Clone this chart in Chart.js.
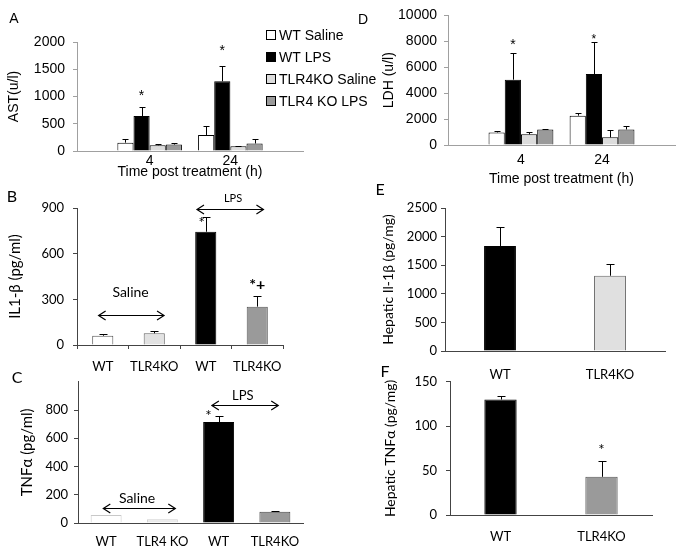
<!DOCTYPE html>
<html>
<head>
<meta charset="utf-8">
<script src="https://cdn.jsdelivr.net/npm/chart.js@4.4.1/dist/chart.umd.min.js"></script>
<style>
  body { margin: 0; background: #fff; }
  #wrap { position: relative; width: 683px; height: 553px; overflow: hidden; background: #fff; }
  canvas { position: absolute; }
</style>
</head>
<body>
<div id="wrap">
  <canvas id="chartD" width="343" height="190" style="left:340px;top:0"></canvas>
  <canvas id="chartA" width="395" height="185" style="left:0;top:0"></canvas>
  <canvas id="chartB" width="340" height="190" style="left:0;top:185px"></canvas>
  <canvas id="chartE" width="343" height="200" style="left:340px;top:180px"></canvas>
  <canvas id="chartC" width="340" height="185" style="left:0;top:368px"></canvas>
  <canvas id="chartF" width="343" height="188" style="left:340px;top:365px"></canvas>
</div>
<script>
// serum panels A and D: time points and groups
const timeLabels = ['4', '24'];
const groupLabels = ['WT Saline', 'WT LPS', 'TLR4KO Saline', 'TLR4 KO LPS'];

// A: AST (u/l) mean, and SD on top
const astWtSaline = [153, 294];
const astWtLps = [642, 1279];
const astKoSaline = [105, 88];
const astKoLps = [118, 138];
const astWtSalineErr = [75, 165];
const astWtLpsErr = [160, 286];
const astKoSalineErr = [15, 12];
const astKoLpsErr = [30, 74];

// D: LDH (u/l)
const ldhWtSaline = [970, 2265];
const ldhWtLps = [5040, 5470];
const ldhKoSaline = [820, 590];
const ldhKoLps = [1200, 1200];
const ldhWtSalineErr = [100, 205];
const ldhWtLpsErr = [2080, 2490];
const ldhKoSalineErr = [150, 555];
const ldhKoLpsErr = [45, 275];

// B and C: serum cytokines, saline then LPS
const serumLabels = ['WT', 'TLR4KO', 'WT', 'TLR4KO'];
const serumLabelsC = ['WT', 'TLR4 KO', 'WT', 'TLR4KO'];
const il1b = [61, 77, 744, 252];
const il1bErr = [11, 17, 99, 72];
const tnf = [57, 26, 715, 79];
const tnfErr = [0, 0, 40, 6];

// E and F: hepatic cytokines
const hepLabels = ['WT', 'TLR4KO'];
const hepIl1b = [1836, 1316];
const hepIl1bErr = [337, 210];
const hepTnf = [130, 43];
const hepTnfErr = [4, 18];

const groupColors = ['#ffffff', '#000000', '#dcdcdc', '#9a9a9a'];
const arial = '"Liberation Sans", Arial, sans-serif';
const calibri = 'Lato, Carlito, sans-serif';

// error bars: drawn upward from bar top, SD taken from dataset.errors
const errorBarPlugin = {
  id: 'errorBars',
  afterDatasetsDraw(chart, args, opts) {
    const ctx = chart.ctx;
    const yAxis = chart.scales.y;
    ctx.save();
    ctx.strokeStyle = '#000';
    ctx.lineWidth = 1;
    chart.data.datasets.forEach((ds, i) => {
      if (!ds.errors) return;
      chart.getDatasetMeta(i).data.forEach((bar, j) => {
        const err = ds.errors[j];
        if (!err) return;
        const raw = ds.data[j];
        const v = typeof raw === 'object' ? raw.y : raw;
        const top = Math.round(yAxis.getPixelForValue(v + err)) + 0.5;
        const x = Math.round(bar.x) + 0.5;
        ctx.beginPath();
        ctx.moveTo(x, bar.y);
        ctx.lineTo(x, top);
        ctx.moveTo(x - opts.cap, top);
        ctx.lineTo(x + opts.cap, top);
        ctx.stroke();
      });
    });
    ctx.restore();
  }
};

// stars, double arrows, text, panel letters and the A legend
const notesPlugin = {
  id: 'notes',
  afterDraw(chart, args, opts) {
    const ctx = chart.ctx;
    const xAxis = chart.scales.x, yAxis = chart.scales.y;
    ctx.save();
    ctx.fillStyle = '#000';
    ctx.strokeStyle = '#000';
    ctx.textAlign = 'center';
    ctx.textBaseline = 'middle';
    (opts.stars || []).forEach(s => {
      const px = s.dataset !== undefined
        ? chart.getDatasetMeta(s.dataset).data[s.index].x
        : xAxis.getPixelForValue(s.x);
      ctx.font = s.font;
      ctx.fillText(s.text, px, yAxis.getPixelForValue(s.y));
    });
    (opts.arrows || []).forEach(a => {
      const x1 = xAxis.getPixelForValue(a.x1);
      const x2 = xAxis.getPixelForValue(a.x2);
      const py = Math.round(yAxis.getPixelForValue(a.y)) + 0.5;
      ctx.lineWidth = 1.2;
      ctx.beginPath();
      ctx.moveTo(x1, py); ctx.lineTo(x2, py);
      ctx.moveTo(x1 + 7, py - 4.5); ctx.lineTo(x1, py); ctx.lineTo(x1 + 7, py + 4.5);
      ctx.moveTo(x2 - 7, py - 4.5); ctx.lineTo(x2, py); ctx.lineTo(x2 - 7, py + 4.5);
      ctx.stroke();
    });
    (opts.texts || []).forEach(t => {
      ctx.font = t.font;
      ctx.fillText(t.text, xAxis.getPixelForValue(t.x), yAxis.getPixelForValue(t.y));
    });
    if (opts.letter) {
      ctx.font = opts.letter.font;
      ctx.fillText(opts.letter.text, opts.letter.px, opts.letter.py);
    }
    if (opts.legend) {
      const lg = opts.legend;
      ctx.font = lg.font;
      ctx.textAlign = 'left';
      ctx.lineWidth = 1;
      chart.data.datasets.forEach((ds, i) => {
        const cy = lg.py + i * lg.step;
        ctx.fillStyle = ds.backgroundColor;
        ctx.fillRect(lg.px + 0.5, cy - 4.5, 9, 9);
        ctx.strokeStyle = '#000';
        ctx.strokeRect(lg.px + 0.5, cy - 4.5, 9, 9);
        ctx.fillStyle = '#000';
        ctx.fillText(ds.label, lg.px + 13, cy + 1);
      });
    }
    ctx.restore();
  }
};

function yScale(o) {
  return {
    min: 0,
    max: o.max,
    afterBuildTicks: s => {
      if (o.tickMax !== undefined) s.ticks = s.ticks.filter(t => t.value <= o.tickMax);
    },
    afterFit: s => { s.width = o.width; },
    border: { color: o.axisColor, width: 1 },
    grid: { drawOnChartArea: false, drawTicks: true, tickLength: 4, color: o.axisColor },
    ticks: { stepSize: o.step, padding: o.pad, color: '#000', font: o.font, callback: v => String(v) },
    title: { display: true, text: o.title, color: '#000', font: o.titleFont, padding: { top: o.titlePad, bottom: 0 } }
  };
}

function xCategory(o) {
  return {
    afterFit: s => { s.height = o.height; },
    border: { color: o.axisColor, width: 1 },
    grid: { drawOnChartArea: false, drawTicks: !!o.tickMarks, tickLength: 4, color: o.axisColor },
    ticks: { padding: o.pad, color: '#000', font: o.font, maxRotation: 0 }
  };
}

function xTime(o) {
  return {
    type: 'linear',
    offset: false,
    min: -0.4,
    max: timeLabels.length + 0.4,
    afterBuildTicks: s => { s.ticks = timeLabels.map((t, j) => ({ value: j + 0.5 })); },
    afterFit: s => { s.height = o.height; },
    border: { color: o.axisColor, width: 1 },
    grid: { drawOnChartArea: false, drawTicks: false },
    ticks: { padding: o.pad, color: '#000', font: o.font, callback: (v, i) => timeLabels[i] },
    title: { display: true, text: 'Time post treatment (h)', color: '#000', font: o.font, padding: { top: 0, bottom: o.titlePad } }
  };
}

function timeDatasets(series, errs) {
  return series.map((vals, i) => ({
    label: groupLabels[i],
    data: vals.map((v, j) => ({ x: j + 0.5, y: v })),
    errors: errs[i],
    backgroundColor: groupColors[i],
    borderColor: '#000',
    borderWidth: 1,
    categoryPercentage: 0.8,
    barPercentage: 1
  }));
}

function baseOptions(padding, plugins, scales) {
  return {
    responsive: false,
    animation: false,
    layout: { padding: padding, autoPadding: false },
    plugins: Object.assign({ legend: { display: false }, tooltip: { enabled: false } }, plugins),
    scales: scales
  };
}

// A
new Chart(document.getElementById('chartA'), {
  type: 'bar',
  data: {
    datasets: timeDatasets(
      [astWtSaline, astWtLps, astKoSaline, astKoLps],
      [astWtSalineErr, astWtLpsErr, astKoSalineErr, astKoLpsErr])
  },
  options: baseOptions({ left: 0, top: 42, right: 92, bottom: 0 }, {
    errorBars: { cap: 3 },
    notes: {
      stars: [
        { dataset: 1, index: 0, y: 1010, text: '*', font: '14px ' + arial },
        { dataset: 1, index: 1, y: 1830, text: '*', font: '14px ' + arial }
      ],
      letter: { text: 'A', px: 14, py: 19, font: '14px ' + arial },
      legend: { px: 266, py: 35, step: 22, font: '14px ' + arial }
    }
  }, {
    x: xTime({ height: 34, pad: 2, titlePad: 4, axisColor: '#a0a0a0', font: { family: arial, size: 14 } }),
    y: yScale({ max: 2000, step: 500, width: 77, pad: 8, axisColor: '#a0a0a0', title: 'AST(u/l)',
      titlePad: 6, font: { family: arial, size: 14 }, titleFont: { family: arial, size: 14 } })
  }),
  plugins: [errorBarPlugin, notesPlugin]
});

// D
new Chart(document.getElementById('chartD'), {
  type: 'bar',
  data: {
    datasets: timeDatasets(
      [ldhWtSaline, ldhWtLps, ldhKoSaline, ldhKoLps],
      [ldhWtSalineErr, ldhWtLpsErr, ldhKoSalineErr, ldhKoLpsErr])
  },
  options: baseOptions({ left: 0, top: 14, right: 8, bottom: 0 }, {
    errorBars: { cap: 3 },
    notes: {
      stars: [
        { dataset: 1, index: 0, y: 7700, text: '*', font: '14px ' + arial },
        { dataset: 1, index: 1, y: 8150, text: '*', font: '12px ' + arial }
      ],
      letter: { text: 'D', px: 23, py: 20, font: '14px ' + arial }
    }
  }, {
    x: xTime({ height: 45, pad: 7, titlePad: 2, axisColor: '#a0a0a0', font: { family: arial, size: 14 } }),
    y: yScale({ max: 10000, step: 2000, width: 108, pad: 7, axisColor: '#a0a0a0', title: 'LDH (u/l)',
      titlePad: 41, font: { family: arial, size: 14 }, titleFont: { family: arial, size: 14 } })
  }),
  plugins: [errorBarPlugin, notesPlugin]
});

// B
new Chart(document.getElementById('chartB'), {
  type: 'bar',
  data: {
    labels: serumLabels,
    datasets: [{
      data: il1b,
      errors: il1bErr,
      backgroundColor: ['#ffffff', '#e2e2e2', '#000000', '#9a9a9a'],
      borderColor: ['#555', '#666', '#000', '#555'],
      borderWidth: 1,
      barPercentage: 0.41,
      categoryPercentage: 1
    }]
  },
  options: baseOptions({ left: 0, top: 23, right: 57, bottom: 0 }, {
    errorBars: { cap: 4 },
    notes: {
      stars: [
        { x: 1.92, y: 800, text: '*', font: '15px ' + calibri },
        { x: 3, y: 394, text: '*+', font: 'bold 16px ' + calibri }
      ],
      arrows: [{ x1: -0.08, x2: 1.19, y: 197 }, { x1: 1.83, x2: 3.12, y: 893 }],
      texts: [
        { x: 0.54, y: 342, text: 'Saline', font: '14px ' + calibri },
        { x: 2.53, y: 966, text: 'LPS', font: '11px ' + calibri }
      ],
      letter: { text: 'B', px: 12, py: 12, font: '16px ' + calibri }
    }
  }, {
    x: xCategory({ height: 30, pad: 10, tickMarks: true, axisColor: '#444', font: { family: calibri, size: 13 } }),
    y: yScale({ max: 900, step: 300, width: 77, pad: 9, axisColor: '#444', title: 'IL1-β (pg/ml)',
      titlePad: 6, font: { family: calibri, size: 13 }, titleFont: { family: calibri, size: 15 } })
  }),
  plugins: [errorBarPlugin, notesPlugin]
});

// C
new Chart(document.getElementById('chartC'), {
  type: 'bar',
  data: {
    labels: serumLabelsC,
    datasets: [{
      data: tnf,
      errors: tnfErr,
      backgroundColor: ['#ffffff', '#eaeaea', '#000000', '#9a9a9a'],
      borderColor: ['#c8c8c8', '#cfcfcf', '#000', '#444'],
      borderWidth: 1,
      barPercentage: 0.55,
      categoryPercentage: 1
    }]
  },
  options: baseOptions({ left: 0, top: 4, right: 37, bottom: 0 }, {
    errorBars: { cap: 4 },
    notes: {
      stars: [{ x: 1.82, y: 760, text: '*', font: '15px ' + calibri }],
      arrows: [{ x1: -0.05, x2: 1.23, y: 106 }, { x1: 1.88, x2: 3.06, y: 833 }],
      texts: [
        { x: 0.55, y: 172, text: 'Saline', font: '14px ' + calibri },
        { x: 2.43, y: 899, text: 'LPS', font: '13px ' + calibri }
      ],
      letter: { text: 'C', px: 17, py: 10, font: '16px ' + calibri }
    }
  }, {
    x: xCategory({ height: 30, pad: 11, axisColor: '#444', font: { family: calibri, size: 13 } }),
    y: yScale({ max: 1000, tickMax: 800, step: 200, width: 78, pad: 6, axisColor: '#444', title: 'TNFα (pg/ml)',
      titlePad: 18, font: { family: calibri, size: 13 }, titleFont: { family: calibri, size: 15 } })
  }),
  plugins: [errorBarPlugin, notesPlugin]
});

// E
new Chart(document.getElementById('chartE'), {
  type: 'bar',
  data: {
    labels: hepLabels,
    datasets: [{
      data: hepIl1b,
      errors: hepIl1bErr,
      backgroundColor: ['#000000', '#e0e0e0'],
      borderColor: ['#000', '#666'],
      borderWidth: 1,
      barPercentage: 0.29,
      categoryPercentage: 1
    }]
  },
  options: baseOptions({ left: 0, top: 28, right: 18, bottom: 0 }, {
    errorBars: { cap: 4 },
    notes: { letter: { text: 'E', px: 40, py: 10, font: '16px ' + calibri } }
  }, {
    x: xCategory({ height: 29, pad: 16, axisColor: '#444', font: { family: calibri, size: 13 } }),
    y: yScale({ max: 2500, step: 500, width: 105, pad: 4, axisColor: '#444', title: 'Hepatic Il-1β (pg/mg)',
      titlePad: 40, font: { family: calibri, size: 13 }, titleFont: { family: calibri, size: 14 } })
  }),
  plugins: [errorBarPlugin, notesPlugin]
});

// F
new Chart(document.getElementById('chartF'), {
  type: 'bar',
  data: {
    labels: hepLabels,
    datasets: [{
      data: hepTnf,
      errors: hepTnfErr,
      backgroundColor: ['#000000', '#9a9a9a'],
      borderColor: ['#000', '#555'],
      borderWidth: 1,
      barPercentage: 0.32,
      categoryPercentage: 1
    }]
  },
  options: baseOptions({ left: 0, top: 13, right: 31, bottom: 0 }, {
    errorBars: { cap: 4 },
    notes: {
      stars: [{ x: 1, y: 73, text: '*', font: '15px ' + calibri }],
      letter: { text: 'F', px: 45, py: 7, font: '16px ' + calibri }
    }
  }, {
    x: xCategory({ height: 38, pad: 14, axisColor: '#444', font: { family: calibri, size: 13 } }),
    y: yScale({ max: 150, step: 50, width: 110, pad: 9, axisColor: '#444', title: 'Hepatic TNFα (pg/mg)',
      titlePad: 42, font: { family: calibri, size: 13 }, titleFont: { family: calibri, size: 14 } })
  }),
  plugins: [errorBarPlugin, notesPlugin]
});
</script>
</body>
</html>
